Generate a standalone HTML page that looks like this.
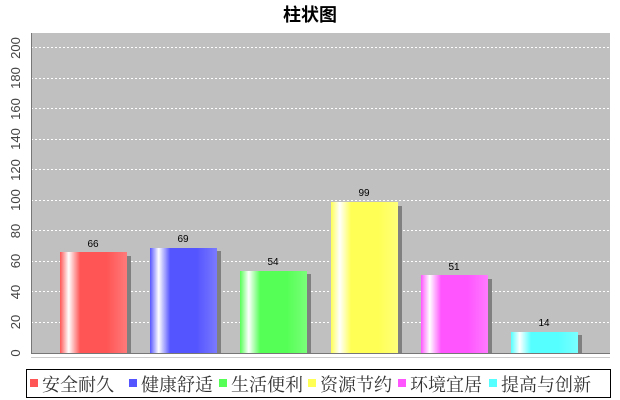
<!DOCTYPE html>
<html><head><meta charset="utf-8"><style>body{margin:0;background:#fff}svg{display:block}</style></head><body>
<svg width="620" height="400" xmlns="http://www.w3.org/2000/svg" font-family="Liberation Sans, sans-serif">
<defs>
<linearGradient id="g0"><stop offset="0" stop-color="#ff5555"/><stop offset=".13" stop-color="#fff"/><stop offset=".3" stop-color="#ff5555"/><stop offset=".7" stop-color="#ff5555"/><stop offset="1" stop-color="#ff7a7a"/></linearGradient>
<linearGradient id="g1"><stop offset="0" stop-color="#5555ff"/><stop offset=".13" stop-color="#fff"/><stop offset=".3" stop-color="#5555ff"/><stop offset=".7" stop-color="#5555ff"/><stop offset="1" stop-color="#7a7aff"/></linearGradient>
<linearGradient id="g2"><stop offset="0" stop-color="#55ff55"/><stop offset=".13" stop-color="#fff"/><stop offset=".3" stop-color="#55ff55"/><stop offset=".7" stop-color="#55ff55"/><stop offset="1" stop-color="#7aff7a"/></linearGradient>
<linearGradient id="g3"><stop offset="0" stop-color="#ffff55"/><stop offset=".13" stop-color="#fff"/><stop offset=".3" stop-color="#ffff55"/><stop offset=".7" stop-color="#ffff55"/><stop offset="1" stop-color="#ffff7a"/></linearGradient>
<linearGradient id="g4"><stop offset="0" stop-color="#ff55ff"/><stop offset=".13" stop-color="#fff"/><stop offset=".3" stop-color="#ff55ff"/><stop offset=".7" stop-color="#ff55ff"/><stop offset="1" stop-color="#ff7aff"/></linearGradient>
<linearGradient id="g5"><stop offset="0" stop-color="#55ffff"/><stop offset=".13" stop-color="#fff"/><stop offset=".3" stop-color="#55ffff"/><stop offset=".7" stop-color="#55ffff"/><stop offset="1" stop-color="#7affff"/></linearGradient>
</defs>
<text x="310" y="21" text-anchor="middle" font-size="18" font-weight="bold" font-family="Liberation Sans, Noto Sans CJK SC, sans-serif">柱状图</text>
<rect x="31" y="33" width="579" height="320" fill="#c0c0c0"/>
<g stroke="#fff" stroke-dasharray="2,2" stroke-width="1">
<line x1="31" x2="610" y1="47.5" y2="47.5"/><line x1="31" x2="610" y1="78.5" y2="78.5"/><line x1="31" x2="610" y1="108.5" y2="108.5"/><line x1="31" x2="610" y1="139.5" y2="139.5"/><line x1="31" x2="610" y1="169.5" y2="169.5"/><line x1="31" x2="610" y1="200.5" y2="200.5"/><line x1="31" x2="610" y1="230.5" y2="230.5"/><line x1="31" x2="610" y1="261.5" y2="261.5"/><line x1="31" x2="610" y1="291.5" y2="291.5"/><line x1="31" x2="610" y1="322.5" y2="322.5"/>
</g>
<line x1="31.5" y1="33" x2="31.5" y2="353" stroke="#777"/>
<line x1="31" y1="353.5" x2="610" y2="353.5" stroke="#777"/>
<line x1="31" y1="357.5" x2="610" y2="357.5" stroke="#ccc"/>
<g font-size="13" fill="#444">
<text transform="translate(20,353) rotate(-90)" text-anchor="middle">0</text>
<text transform="translate(20,322) rotate(-90)" text-anchor="middle">20</text>
<text transform="translate(20,292) rotate(-90)" text-anchor="middle">40</text>
<text transform="translate(20,261) rotate(-90)" text-anchor="middle">60</text>
<text transform="translate(20,231) rotate(-90)" text-anchor="middle">80</text>
<text transform="translate(20,200) rotate(-90)" text-anchor="middle">100</text>
<text transform="translate(20,170) rotate(-90)" text-anchor="middle">120</text>
<text transform="translate(20,139) rotate(-90)" text-anchor="middle">140</text>
<text transform="translate(20,109) rotate(-90)" text-anchor="middle">160</text>
<text transform="translate(20,78) rotate(-90)" text-anchor="middle">180</text>
<text transform="translate(20,48) rotate(-90)" text-anchor="middle">200</text>
</g>
<g fill="#808080">
<rect x="64" y="256" width="67" height="97"/>
<rect x="154" y="251" width="67" height="102"/>
<rect x="244" y="274" width="67" height="79"/>
<rect x="335" y="206" width="67" height="147"/>
<rect x="425" y="279" width="67" height="74"/>
<rect x="515" y="335" width="67" height="18"/>
</g>
<rect x="60" y="252" width="67" height="101" fill="url(#g0)"/>
<rect x="150" y="248" width="67" height="105" fill="url(#g1)"/>
<rect x="240" y="271" width="67" height="82" fill="url(#g2)"/>
<rect x="331" y="202" width="67" height="151" fill="url(#g3)"/>
<rect x="421" y="275" width="67" height="78" fill="url(#g4)"/>
<rect x="511" y="332" width="67" height="21" fill="url(#g5)"/>
<g font-size="10" text-anchor="middle" fill="#000">
<text x="93" y="247">66</text><text x="183" y="242">69</text><text x="273" y="265">54</text><text x="364" y="196">99</text><text x="454" y="270">51</text><text x="544" y="326">14</text>
</g>
<rect x="26.5" y="369.5" width="584" height="28" fill="#fff" stroke="#000"/>
<g font-size="18" fill="#333" font-family="Liberation Serif, Noto Serif CJK SC, serif">
<rect x="30" y="379" width="8" height="8" fill="#ff5555"/><text x="42" y="391">安全耐久</text>
<rect x="129" y="379" width="8" height="8" fill="#5555ff"/><text x="141" y="391">健康舒适</text>
<rect x="219" y="379" width="8" height="8" fill="#55ff55"/><text x="231" y="391">生活便利</text>
<rect x="308" y="379" width="8" height="8" fill="#ffff55"/><text x="320" y="391">资源节约</text>
<rect x="398" y="379" width="8" height="8" fill="#ff55ff"/><text x="410" y="391">环境宜居</text>
<rect x="489" y="379" width="8" height="8" fill="#55ffff"/><text x="501" y="391">提高与创新</text>
</g>
</svg>
</body></html>
